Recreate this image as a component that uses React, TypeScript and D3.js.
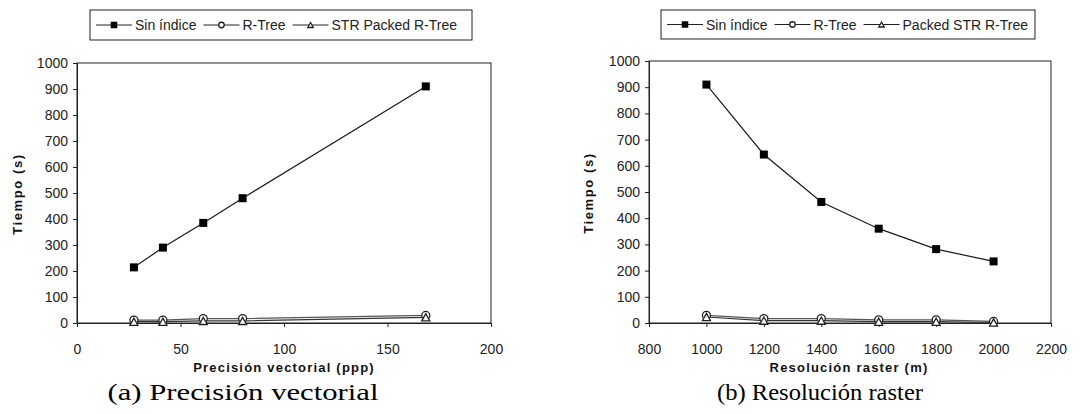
import React, { useRef, useEffect } from "react";
import * as d3 from "d3";

// (a) Precisión vectorial
const precisionX = [27.5, 41.5, 61, 80, 168.5];
const precisionSinIndice = [214, 290, 385, 480, 910];
const precisionRTree = [11, 11, 17, 17, 29];
const precisionPacked = [5, 5, 8, 8, 22];
const precisionTicks = [0, 50, 100, 150, 200];
const precisionLegend = ["Sin índice", "R-Tree", "STR Packed R-Tree"];

// (b) Resolución raster
const resolutionX = [1000, 1200, 1400, 1600, 1800, 2000];
const resolutionSinIndice = [910, 643, 462, 360, 282, 235];
const resolutionRTree = [29, 17, 17, 12, 12, 6];
const resolutionPacked = [23, 9, 9, 5, 5, 2];
const resolutionTicks = [800, 1000, 1200, 1400, 1600, 1800, 2000, 2200];
const resolutionLegend = ["Sin índice", "R-Tree", "Packed STR R-Tree"];

const timeTicks = [0, 100, 200, 300, 400, 500, 600, 700, 800, 900, 1000];

const W = 1091;
const H = 414;
const SANS = "'Liberation Sans', Arial, sans-serif";
const SERIF = "'Liberation Serif', 'Times New Roman', serif";

type Panel = {
  xs: number[];
  series: number[][];
  labels: string[];
  xTicks: number[];
  plot: { left: number; right: number; top: number; bottom: number };
  legendBox: { x: number; y: number; w: number; h: number };
  yLabelX: number;
  xTitle: string;
  xTitleX: number;
  caption: string;
  captionX: number;
  captionW: number;
};

const panels: Panel[] = [
  {
    xs: precisionX,
    series: [precisionSinIndice, precisionRTree, precisionPacked],
    labels: precisionLegend,
    xTicks: precisionTicks,
    plot: { left: 77, right: 491, top: 63, bottom: 323 },
    legendBox: { x: 90, y: 10, w: 382, h: 30 },
    yLabelX: 22,
    xTitle: "Precisión vectorial (ppp)",
    xTitleX: 284,
    caption: "(a) Precisión vectorial",
    captionX: 243,
    captionW: 271,
  },
  {
    xs: resolutionX,
    series: [resolutionSinIndice, resolutionRTree, resolutionPacked],
    labels: resolutionLegend,
    xTicks: resolutionTicks,
    plot: { left: 649, right: 1051, top: 61, bottom: 323 },
    legendBox: { x: 661, y: 10, w: 374, h: 29 },
    yLabelX: 593,
    xTitle: "Resolución raster (m)",
    xTitleX: 849,
    caption: "(b) Resolución raster",
    captionX: 820,
    captionW: 206,
  },
];

const lineColors = ["#1a1a1a", "#555", "#333"];

function drawMarker(g: any, kind: number, x: number, y: number, s: number) {
  if (kind === 0) {
    g.append("rect")
      .attr("x", x - s / 2)
      .attr("y", y - s / 2)
      .attr("width", s)
      .attr("height", s)
      .attr("fill", "#000");
  } else if (kind === 1) {
    g.append("circle")
      .attr("cx", x)
      .attr("cy", y)
      .attr("r", s / 2)
      .attr("fill", "#fff")
      .attr("stroke", "#222")
      .attr("stroke-width", 1.3);
  } else {
    const h = s * 0.9;
    g.append("path")
      .attr(
        "d",
        `M${x},${y - h / 2}L${x + s / 2},${y + h / 2}L${x - s / 2},${y + h / 2}Z`
      )
      .attr("fill", "#fff")
      .attr("stroke", "#222")
      .attr("stroke-width", 1.3);
  }
}

function drawPanel(svg: any, p: Panel) {
  const x = d3
    .scaleLinear()
    .domain(d3.extent(p.xTicks) as [number, number])
    .range([p.plot.left, p.plot.right]);
  const y = d3
    .scaleLinear()
    .domain([0, 1000])
    .range([p.plot.bottom, p.plot.top]);

  const g = svg.append("g");

  // plot frame
  g.append("rect")
    .attr("x", p.plot.left)
    .attr("y", p.plot.top)
    .attr("width", p.plot.right - p.plot.left)
    .attr("height", p.plot.bottom - p.plot.top)
    .attr("fill", "none")
    .attr("stroke", "#222")
    .attr("stroke-width", 1);

  // y axis
  const yAxis = g
    .append("g")
    .attr("transform", `translate(${p.plot.left},0)`)
    .call(
      d3
        .axisLeft(y)
        .tickValues(timeTicks)
        .tickFormat(d3.format("d"))
        .tickSize(4)
        .tickPadding(5)
    );
  // x axis
  const xAxis = g
    .append("g")
    .attr("transform", `translate(0,${p.plot.bottom})`)
    .call(
      d3
        .axisBottom(x)
        .tickValues(p.xTicks)
        .tickFormat(d3.format("d"))
        .tickSize(4)
        .tickPadding(17)
    );
  [yAxis, xAxis].forEach((a) => {
    a.select(".domain").attr("stroke", "#222");
    a.selectAll(".tick line").attr("stroke", "#222");
    a.selectAll("text")
      .attr("font-family", SANS)
      .attr("font-size", 14)
      .attr("fill", "#222");
  });

  // series
  p.series.forEach((vals, i) => {
    const pts = vals.map((v, j) => [x(p.xs[j]), y(v)] as [number, number]);
    g.append("path")
      .attr("d", d3.line()(pts))
      .attr("fill", "none")
      .attr("stroke", lineColors[i])
      .attr("stroke-width", 1.2);
  });
  p.series.forEach((vals, i) => {
    vals.forEach((v, j) => drawMarker(g, i, x(p.xs[j]), y(v), 8));
  });

  // y label
  g.append("text")
    .attr("transform", `translate(${p.yLabelX},${(p.plot.top + p.plot.bottom) / 2 + 1}) rotate(-90)`)
    .attr("text-anchor", "middle")
    .attr("font-family", SANS)
    .attr("font-weight", "bold")
    .attr("font-size", 13)
    .attr("letter-spacing", 1.6)
    .attr("fill", "#111")
    .text("Tiempo (s)");

  // x title
  g.append("text")
    .attr("x", p.xTitleX)
    .attr("y", 372)
    .attr("text-anchor", "middle")
    .attr("font-family", SANS)
    .attr("font-weight", "bold")
    .attr("font-size", 13)
    .attr("letter-spacing", 1.2)
    .attr("fill", "#111")
    .text(p.xTitle);

  // caption
  g.append("text")
    .attr("x", p.captionX - p.captionW / 2)
    .attr("y", 400)
    .attr("font-family", SERIF)
    .attr("font-size", 23)
    .attr("textLength", p.captionW)
    .attr("lengthAdjust", "spacingAndGlyphs")
    .attr("fill", "#000")
    .text(p.caption);

  // legend
  const b = p.legendBox;
  g.append("rect")
    .attr("x", b.x)
    .attr("y", b.y)
    .attr("width", b.w)
    .attr("height", b.h)
    .attr("fill", "#fff")
    .attr("stroke", "#222")
    .attr("stroke-width", 1);
  const cy = b.y + b.h / 2;
  let cx = b.x + 6;
  p.labels.forEach((label, i) => {
    g.append("line")
      .attr("x1", cx)
      .attr("x2", cx + 36)
      .attr("y1", cy)
      .attr("y2", cy)
      .attr("stroke", "#222")
      .attr("stroke-width", 1.2);
    drawMarker(g, i, cx + 18, cy, i === 0 ? 6.5 : 5.5);
    const t = g
      .append("text")
      .attr("x", cx + 39)
      .attr("y", cy + 5)
      .attr("font-family", SANS)
      .attr("font-size", 14)
      .attr("fill", "#222")
      .text(label);
    const tw = (t.node() as SVGTextElement).getComputedTextLength();
    cx = cx + 39 + tw + 7;
  });
}

export default function App() {
  const svgRef = useRef<SVGSVGElement>(null);

  useEffect(() => {
    const svg = d3.select(svgRef.current);
    svg.selectAll("*").remove();
    panels.forEach((p) => drawPanel(svg, p));
    return () => {
      svg.selectAll("*").remove();
    };
  }, []);

  return (
    <svg
      ref={svgRef}
      width={W}
      height={H}
      style={{ position: "absolute", left: 0, top: 0, background: "#fff" }}
    />
  );
}
